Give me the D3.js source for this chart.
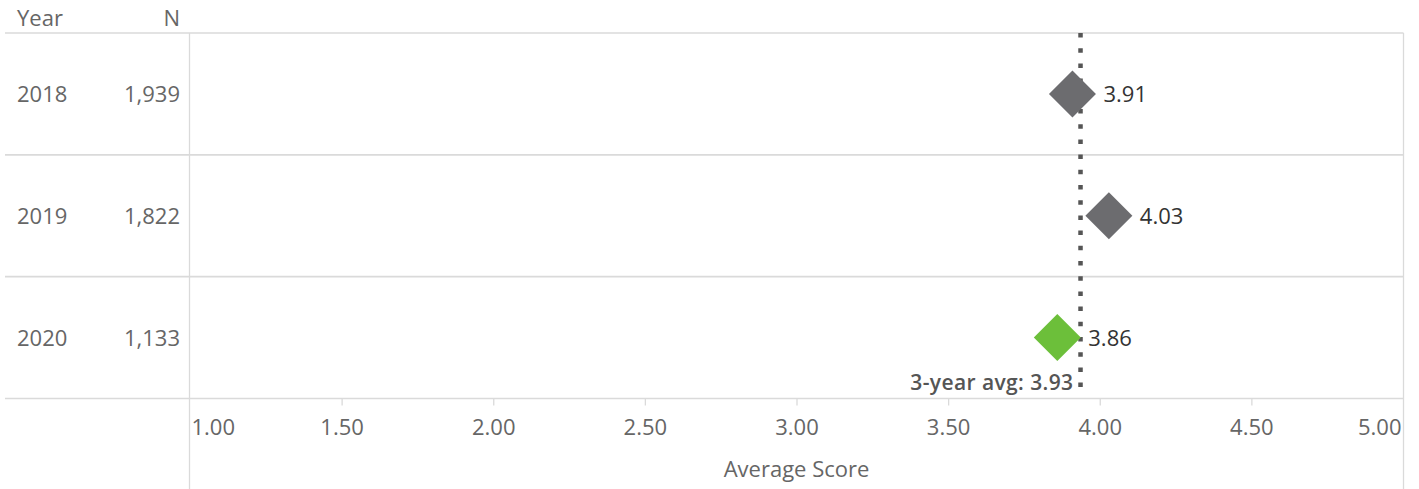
<!DOCTYPE html>
<html>
<head>
<meta charset="utf-8">
<script src="https://cdn.jsdelivr.net/npm/d3@7"></script>
<style>
  html, body { margin: 0; padding: 0; background: #fff; }
  svg { display: block; font-family: "Open Sans", sans-serif; }
</style>
</head>
<body>
<svg id="chart" width="1419" height="489"></svg>
<script>
// Survey results by year
const years = ["2018", "2019", "2020"];
const counts = [1939, 1822, 1133];
const scores = [3.91, 4.03, 3.86];
const highlight = [false, false, true];   // current year is highlighted
const threeYearAvg = 3.93;
const tickValues = [1.0, 1.5, 2.0, 2.5, 3.0, 3.5, 4.0, 4.5, 5.0];
const axisTitle = "Average Score";
const headers = ["Year", "N"];

const W = 1419, H = 489;
const gridColor = "#dadada";
const textGray = "#666";
const fs = 22;

const svg = d3.select("#chart");

// Layout
const tableLeft = 5;
const paneLeft = 189.5, paneRight = 1403.5;
const headerBottom = 33;
const axisTop = 398.5;

const x = d3.scaleLinear().domain([1, 5]).range([190, 1403]);
const y = d3.scaleBand().domain(years).range([headerBottom, axisTop]).padding(0);

// Header
svg.append("text").attr("x", 17).attr("y", 26).attr("font-size", fs)
  .attr("fill", textGray).text(headers[0]);
svg.append("text").attr("x", 180).attr("y", 26).attr("font-size", fs)
  .attr("text-anchor", "end").attr("fill", textGray).text(headers[1]);

// Horizontal rules: header bottom, row separators, axis line
const rules = [headerBottom].concat(years.map(yr => y(yr) + y.bandwidth()));
svg.append("g").selectAll("line").data(rules).join("line")
  .attr("x1", tableLeft).attr("x2", paneRight)
  .attr("y1", d => d).attr("y2", d => d)
  .attr("stroke", gridColor).attr("stroke-width", 1.6);

// Vertical borders of the plot pane
svg.append("line").attr("x1", paneLeft).attr("x2", paneLeft)
  .attr("y1", headerBottom).attr("y2", H)
  .attr("stroke", gridColor).attr("stroke-width", 1.3);
svg.append("line").attr("x1", paneRight).attr("x2", paneRight)
  .attr("y1", headerBottom).attr("y2", H)
  .attr("stroke", gridColor).attr("stroke-width", 1.3);

// Row labels
const rows = svg.append("g").selectAll("g").data(years).join("g")
  .attr("transform", d => `translate(0,${y(d) + y.bandwidth() / 2})`);
rows.append("text").attr("x", 17).attr("y", 8.5).attr("font-size", fs)
  .attr("fill", textGray).text(d => d);
rows.append("text").attr("x", 180).attr("y", 8.5).attr("font-size", fs)
  .attr("text-anchor", "end").attr("fill", textGray)
  .text((d, i) => d3.format(",")(counts[i]));

// X axis
const axis = d3.axisBottom(x).tickValues(tickValues).tickFormat(d3.format(".2f"))
  .tickSize(7).tickPadding(14);
const ax = svg.append("g").attr("transform", `translate(0,${axisTop})`).call(axis);
ax.select(".domain").remove();
ax.selectAll(".tick line").attr("stroke", gridColor).attr("stroke-width", 1.3)
  .attr("opacity", (d, i, n) => (i === 0 || i === n.length - 1) ? 0 : 1);
ax.selectAll(".tick text")
  .attr("font-family", "Open Sans, sans-serif").attr("font-size", fs)
  .attr("fill", textGray)
  .attr("text-anchor", (d, i, n) => i === 0 ? "start" : (i === n.length - 1 ? "end" : "middle"))
  .attr("dx", (d, i, n) => i === 0 ? 1 : (i === n.length - 1 ? -2 : 0));

svg.append("text").attr("x", (paneLeft + paneRight) / 2).attr("y", 477)
  .attr("text-anchor", "middle").attr("font-size", fs).attr("fill", textGray)
  .text(axisTitle);

// Reference line for the 3-year average
const ax3 = x(threeYearAvg) + 2;
svg.append("line").attr("x1", ax3).attr("x2", ax3)
  .attr("y1", headerBottom).attr("y2", 390)
  .attr("stroke", "#555").attr("stroke-width", 4.5)
  .attr("stroke-dasharray", "4.5 10.7");
svg.append("text").attr("x", ax3 - 7).attr("y", 390)
  .attr("text-anchor", "end").attr("font-size", 21).attr("font-weight", 600)
  .attr("letter-spacing", 0.4)
  .attr("fill", "#555").text(`3-year avg: ${threeYearAvg.toFixed(2)}`);

// Diamond marks with value labels
const half = 23.5;
const diamond = d3.symbol().type(d3.symbolSquare).size(2 * half * half);
const marks = svg.append("g").selectAll("g").data(years).join("g")
  .attr("transform", (d, i) => `translate(${x(scores[i])},${y(d) + y.bandwidth() / 2})`);
marks.append("path").attr("d", diamond).attr("transform", "rotate(45)")
  .attr("fill", (d, i) => highlight[i] ? "#6cbf3a" : "#6c6c6f");
marks.append("text").attr("x", half + 7.5).attr("y", 8.5).attr("font-size", fs)
  .attr("fill", "#333").text((d, i) => scores[i].toFixed(2));
</script>
</body>
</html>
